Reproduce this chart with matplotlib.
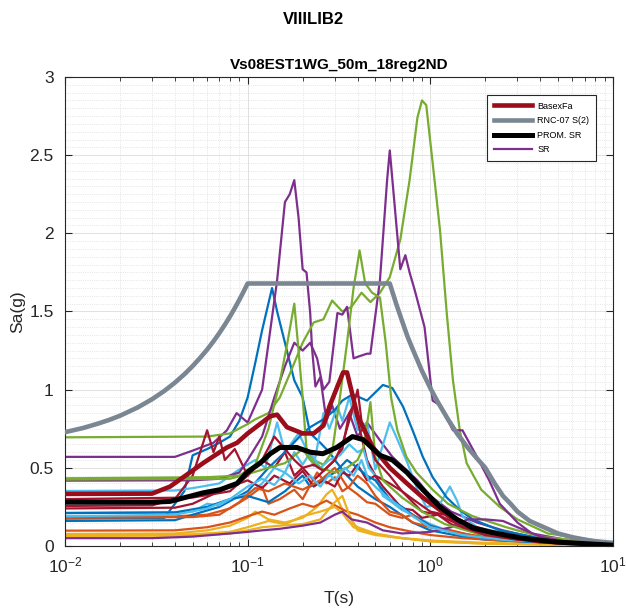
import matplotlib
matplotlib.use('Agg')
import matplotlib.pyplot as plt
from matplotlib.lines import Line2D
from matplotlib.ticker import MultipleLocator, LogLocator, NullFormatter

plt.rcParams['font.family'] = ['Liberation Sans', 'DejaVu Sans']

# colores por defecto de matlab
c_blue = '#0072BD'
c_orange = '#D95319'
c_yellow = '#EDB120'
c_purple = '#7E2F8E'
c_green = '#77AC30'
c_lblue = '#4DBEEE'
c_dred = '#A2142F'

# espectro RNC-07 S(2)
rnc_T = [0.01, 0.0125, 0.015, 0.0175, 0.02, 0.025, 0.03, 0.035, 0.04, 0.045, 0.05, 0.055, 0.06, 0.065,
         0.07, 0.075, 0.08, 0.085, 0.09, 0.095, 0.1, 0.6, 0.65, 0.7, 0.75, 0.8, 0.9, 1.0, 1.1, 1.25,
         1.4, 1.6, 1.8, 2.0, 2.25, 2.5, 2.75, 3.0, 3.5, 4.0, 5.0, 6.0, 7.0, 8.0, 10.0]
rnc_sa = [0.728, 0.754, 0.781, 0.807, 0.833, 0.886, 0.939, 0.992, 1.045, 1.098, 1.151, 1.204, 1.256, 1.309,
          1.362, 1.415, 1.468, 1.521, 1.574, 1.627, 1.679, 1.679, 1.55, 1.44, 1.34, 1.26, 1.12, 1.01, 0.92, 0.81,
          0.72, 0.63, 0.56, 0.50, 0.40, 0.32, 0.27, 0.22, 0.16, 0.13, 0.08, 0.056, 0.041, 0.03, 0.02]

# BasexFa
base_T = [0.01, 0.03, 0.0376, 0.057, 0.077, 0.0875, 0.1, 0.133, 0.145, 0.164, 0.2, 0.23, 0.26, 0.28, 0.31, 0.333, 0.35, 0.40, 0.485, 0.6, 0.745, 0.91, 1.13, 1.4, 1.71, 2.63, 4.0, 10.0]
base_sa = [0.333, 0.335, 0.38, 0.53, 0.63, 0.66, 0.72, 0.83, 0.84, 0.76, 0.72, 0.72, 0.77, 0.89, 1.02, 1.11, 1.11, 0.83, 0.63, 0.50, 0.40, 0.31, 0.23, 0.17, 0.12, 0.06, 0.03, 0.005]

# PROM. SR
prom_T = [0.01, 0.03, 0.0376, 0.057, 0.0705, 0.0875, 0.099, 0.117, 0.133, 0.15, 0.186, 0.22, 0.258, 0.307, 0.375, 0.43, 0.53, 0.62, 0.745, 0.91, 1.13, 1.4, 1.71, 2.1, 3.2, 4.9, 10.0]
prom_sa = [0.28, 0.28, 0.285, 0.34, 0.36, 0.40, 0.47, 0.53, 0.59, 0.63, 0.63, 0.60, 0.59, 0.63, 0.70, 0.68, 0.58, 0.55, 0.47, 0.36, 0.25, 0.17, 0.115, 0.09, 0.05, 0.025, 0.005]

# registros SR
sr01_T = [0.01, 0.035, 0.045, 0.05, 0.06, 0.07, 0.08, 0.09, 0.1, 0.11, 0.12, 0.136, 0.145, 0.16, 0.18, 0.2, 0.22, 0.25, 0.28, 0.3, 0.35, 0.4, 0.5, 0.6, 0.8, 1.0, 1.5, 2.0, 4.0, 10.0]
sr01_sa = [0.175, 0.18, 0.35, 0.58, 0.62, 0.66, 0.70, 0.80, 0.95, 1.17, 1.38, 1.65, 1.50, 1.30, 1.06, 0.95, 0.72, 0.66, 0.60, 0.55, 0.45, 0.38, 0.30, 0.25, 0.15, 0.10, 0.06, 0.04, 0.02, 0.005]
sr02_T = [0.01, 0.04, 0.06, 0.08, 0.1, 0.12, 0.13, 0.15, 0.18, 0.2, 0.24, 0.27, 0.3, 0.33, 0.36, 0.4, 0.45, 0.5, 0.6, 0.7, 0.8, 1.0, 1.3, 1.8, 3.0, 10.0]
sr02_sa = [0.188, 0.19, 0.20, 0.24, 0.31, 0.38, 0.27, 0.30, 0.36, 0.30, 0.47, 0.40, 0.44, 0.35, 0.38, 0.45, 0.40, 0.32, 0.22, 0.20, 0.15, 0.12, 0.10, 0.06, 0.03, 0.005]
sr03_T = [0.01, 0.04, 0.06, 0.08, 0.1, 0.11, 0.13, 0.16, 0.2, 0.24, 0.27, 0.29, 0.31, 0.35, 0.4, 0.5, 0.7, 1.0, 2.0, 10.0]
sr03_sa = [0.077, 0.08, 0.10, 0.13, 0.18, 0.22, 0.17, 0.15, 0.18, 0.25, 0.33, 0.36, 0.30, 0.17, 0.12, 0.08, 0.05, 0.035, 0.02, 0.003]
sr04_T = [0.01, 0.04, 0.05, 0.065, 0.077, 0.087, 0.1, 0.12, 0.133, 0.145, 0.16, 0.17, 0.18, 0.19, 0.2, 0.21, 0.22, 0.225, 0.235, 0.25, 0.27, 0.29, 0.32, 0.36, 0.4, 0.45, 0.55, 0.62, 0.85, 1.0, 1.3, 1.8, 2.5, 3.5, 5.0, 10.0]
sr04_sa = [0.57, 0.57, 0.61, 0.66, 0.74, 0.85, 0.79, 1.00, 1.38, 1.70, 2.20, 2.25, 2.34, 2.10, 1.77, 1.75, 1.49, 1.27, 1.02, 1.08, 0.80, 0.90, 0.75, 0.85, 0.70, 0.79, 0.65, 0.57, 0.42, 0.32, 0.22, 0.15, 0.10, 0.06, 0.03, 0.01]
sr05_T = [0.01, 0.06, 0.08, 0.1, 0.11, 0.13, 0.15, 0.17, 0.2, 0.23, 0.26, 0.29, 0.33, 0.37, 0.42, 0.47, 0.53, 0.6, 0.685, 0.77, 0.85, 0.9, 0.95, 1.03, 1.13, 1.23, 1.33, 1.45, 1.58, 1.9, 2.4, 3.0, 4.4, 10.0]
sr05_sa = [0.695, 0.70, 0.72, 0.78, 0.81, 0.85, 0.95, 1.10, 1.30, 1.43, 1.45, 1.57, 1.50, 1.53, 1.62, 1.56, 1.62, 1.72, 1.96, 2.34, 2.74, 2.85, 2.82, 2.45, 2.02, 1.49, 1.06, 0.74, 0.53, 0.36, 0.25, 0.17, 0.08, 0.02]
sr06_T = [0.01, 0.04, 0.05, 0.07, 0.09, 0.11, 0.125, 0.145, 0.16, 0.19, 0.21, 0.23, 0.26, 0.28, 0.31, 0.33, 0.36, 0.4, 0.45, 0.5, 0.6, 0.65, 0.75, 0.85, 0.95, 1.13, 1.28, 1.4, 1.5, 1.8, 2.6, 4.0, 10.0]
sr06_sa = [0.352, 0.355, 0.37, 0.40, 0.49, 0.55, 0.50, 0.79, 0.60, 0.72, 0.62, 0.51, 0.85, 0.75, 0.89, 0.80, 0.95, 0.74, 0.79, 0.49, 0.79, 0.70, 0.53, 0.36, 0.25, 0.27, 0.38, 0.29, 0.19, 0.12, 0.08, 0.04, 0.005]
sr07_T = [0.01, 0.03, 0.04, 0.05, 0.06, 0.065, 0.07, 0.075, 0.085, 0.1, 0.12, 0.14, 0.16, 0.18, 0.2, 0.23, 0.26, 0.3, 0.33, 0.36, 0.38, 0.42, 0.45, 0.5, 0.6, 0.7, 0.9, 1.1, 1.3, 1.6, 2.5, 4.0, 10.0]
sr07_sa = [0.256, 0.26, 0.30, 0.45, 0.74, 0.60, 0.70, 0.55, 0.62, 0.45, 0.55, 0.50, 0.60, 0.45, 0.50, 0.42, 0.48, 0.55, 0.62, 0.85, 0.90, 0.70, 0.55, 0.45, 0.40, 0.35, 0.22, 0.20, 0.14, 0.10, 0.05, 0.02, 0.005]
sr08_T = [0.01, 0.04, 0.05, 0.07, 0.1, 0.13, 0.16, 0.2, 0.22, 0.26, 0.3, 0.33, 0.375, 0.45, 0.55, 0.62, 0.71, 0.8, 0.91, 1.03, 1.23, 1.45, 1.71, 2.4, 4.0, 10.0]
sr08_sa = [0.16, 0.165, 0.20, 0.25, 0.35, 0.50, 0.60, 0.72, 0.76, 0.81, 0.87, 0.93, 0.97, 0.93, 1.03, 1.01, 0.89, 0.74, 0.57, 0.44, 0.31, 0.23, 0.17, 0.10, 0.05, 0.005]
sr09_T = [0.01, 0.04, 0.06, 0.08, 0.1, 0.12, 0.14, 0.17, 0.2, 0.23, 0.27, 0.3, 0.35, 0.4, 0.5, 0.6, 0.8, 1.0, 1.5, 3.0, 10.0]
sr09_sa = [0.098, 0.10, 0.12, 0.15, 0.19, 0.22, 0.20, 0.24, 0.27, 0.25, 0.29, 0.26, 0.22, 0.20, 0.15, 0.12, 0.09, 0.07, 0.05, 0.03, 0.005]
sr10_T = [0.01, 0.05, 0.08, 0.1, 0.12, 0.15, 0.2, 0.25, 0.3, 0.33, 0.36, 0.4, 0.5, 0.7, 1.0, 2.0, 10.0]
sr10_sa = [0.064, 0.066, 0.08, 0.10, 0.12, 0.13, 0.14, 0.17, 0.28, 0.32, 0.20, 0.10, 0.07, 0.05, 0.03, 0.015, 0.003]
sr11_T = [0.01, 0.05, 0.07, 0.09, 0.1, 0.12, 0.14, 0.16, 0.18, 0.2, 0.22, 0.24, 0.26, 0.28, 0.31, 0.33, 0.35, 0.38, 0.4, 0.45, 0.47, 0.53, 0.58, 0.6, 0.685, 0.73, 0.77, 0.82, 0.93, 1.03, 1.13, 1.33, 1.5, 1.8, 2.1, 2.4, 3.0, 3.6, 5.5, 10.0]
sr11_sa = [0.418, 0.42, 0.43, 0.47, 0.55, 0.70, 0.95, 1.15, 1.30, 1.25, 1.30, 1.20, 1.00, 1.05, 1.49, 1.48, 1.53, 1.20, 1.21, 1.23, 1.23, 1.70, 2.34, 2.53, 1.77, 1.86, 1.75, 1.64, 1.40, 0.93, 0.90, 0.74, 0.74, 0.57, 0.42, 0.27, 0.15, 0.08, 0.04, 0.01]
sr12_T = [0.01, 0.06, 0.09, 0.11, 0.13, 0.15, 0.165, 0.18, 0.19, 0.2, 0.21, 0.23, 0.26, 0.29, 0.32, 0.35, 0.38, 0.41, 0.44, 0.48, 0.53, 0.57, 0.61, 0.66, 0.74, 0.84, 1.03, 1.25, 1.71, 2.6, 4.0, 10.0]
sr12_sa = [0.433, 0.44, 0.45, 0.52, 0.75, 1.05, 1.30, 1.55, 1.25, 0.95, 0.62, 0.55, 0.52, 0.60, 0.95, 1.30, 1.65, 1.89, 1.68, 1.62, 1.59, 1.30, 0.95, 0.74, 0.57, 0.47, 0.36, 0.27, 0.19, 0.12, 0.06, 0.01]
sr13_T = [0.01, 0.04, 0.05, 0.06, 0.07, 0.08, 0.1, 0.12, 0.14, 0.16, 0.18, 0.2, 0.22, 0.25, 0.28, 0.32, 0.36, 0.4, 0.43, 0.46, 0.5, 0.55, 0.6, 0.7, 0.8, 1.0, 1.3, 2.0, 4.0, 10.0]
sr13_sa = [0.213, 0.215, 0.22, 0.27, 0.26, 0.30, 0.33, 0.40, 0.50, 0.47, 0.60, 0.52, 0.60, 0.50, 0.55, 0.58, 0.65, 0.60, 0.62, 0.50, 0.45, 0.32, 0.29, 0.23, 0.20, 0.14, 0.09, 0.05, 0.02, 0.005]
sr14_T = [0.01, 0.04, 0.05, 0.07, 0.09, 0.1, 0.12, 0.14, 0.17, 0.2, 0.23, 0.26, 0.3, 0.33, 0.36, 0.4, 0.45, 0.5, 0.55, 0.6, 0.7, 0.8, 0.9, 1.1, 1.3, 1.8, 3.0, 10.0]
sr14_sa = [0.24, 0.245, 0.27, 0.35, 0.40, 0.42, 0.37, 0.45, 0.40, 0.48, 0.38, 0.42, 0.38, 0.47, 0.45, 0.52, 0.42, 0.45, 0.38, 0.33, 0.24, 0.23, 0.18, 0.20, 0.16, 0.08, 0.04, 0.005]
sr15_T = [0.01, 0.04, 0.06, 0.08, 0.1, 0.13, 0.16, 0.2, 0.22, 0.25, 0.3, 0.35, 0.4, 0.45, 0.5, 0.6, 0.7, 0.8, 1.0, 1.3, 2.0, 4.0, 10.0]
sr15_sa = [0.21, 0.215, 0.25, 0.30, 0.32, 0.28, 0.35, 0.45, 0.38, 0.42, 0.47, 0.55, 0.50, 0.45, 0.42, 0.30, 0.25, 0.20, 0.13, 0.09, 0.05, 0.02, 0.005]
sr16_T = [0.01, 0.05, 0.07, 0.09, 0.1, 0.11, 0.13, 0.16, 0.2, 0.25, 0.3, 0.35, 0.4, 0.45, 0.5, 0.6, 0.7, 0.8, 0.9, 1.0, 1.5, 2.5, 10.0]
sr16_sa = [0.18, 0.185, 0.20, 0.28, 0.33, 0.37, 0.35, 0.40, 0.36, 0.42, 0.50, 0.38, 0.33, 0.28, 0.27, 0.20, 0.18, 0.20, 0.15, 0.12, 0.08, 0.04, 0.005]
sr17_T = [0.01, 0.05, 0.08, 0.1, 0.13, 0.16, 0.2, 0.25, 0.3, 0.33, 0.38, 0.45, 0.6, 1.0, 2.0, 10.0]
sr17_sa = [0.07, 0.075, 0.09, 0.12, 0.16, 0.14, 0.19, 0.22, 0.25, 0.21, 0.12, 0.09, 0.06, 0.03, 0.015, 0.003]
sr18_T = [0.01, 0.03, 0.05, 0.08, 0.1, 0.12, 0.15, 0.2, 0.25, 0.3, 0.33, 0.37, 0.45, 0.55, 0.7, 1.0, 1.3, 1.6, 2.0, 2.5, 3.0, 4.0, 6.0, 10.0]
sr18_sa = [0.05, 0.05, 0.06, 0.08, 0.09, 0.10, 0.11, 0.13, 0.15, 0.20, 0.22, 0.17, 0.15, 0.10, 0.08, 0.09, 0.12, 0.17, 0.17, 0.16, 0.12, 0.06, 0.02, 0.005]
sr19_T = [0.01, 0.08, 0.1, 0.13, 0.16, 0.2, 0.22, 0.25, 0.3, 0.35, 0.4, 0.43, 0.47, 0.5, 0.55, 0.7, 0.9, 1.2, 1.8, 3.0, 10.0]
sr19_sa = [0.425, 0.43, 0.46, 0.50, 0.53, 0.62, 0.55, 0.50, 0.47, 0.50, 0.55, 0.63, 0.92, 0.57, 0.42, 0.31, 0.22, 0.14, 0.08, 0.04, 0.005]
sr20_T = [0.01, 0.04, 0.06, 0.08, 0.1, 0.12, 0.14, 0.16, 0.19, 0.22, 0.25, 0.28, 0.3, 0.34, 0.38, 0.42, 0.46, 0.52, 0.6, 0.8, 1.0, 1.5, 2.5, 10.0]
sr20_sa = [0.19, 0.20, 0.24, 0.30, 0.38, 0.43, 0.39, 0.47, 0.40, 0.45, 0.38, 0.46, 0.42, 0.50, 0.45, 0.55, 0.42, 0.36, 0.30, 0.19, 0.12, 0.07, 0.04, 0.005]
sr21_T = [0.01, 0.05, 0.08, 0.1, 0.12, 0.14, 0.16, 0.18, 0.2, 0.23, 0.26, 0.3, 0.33, 0.37, 0.4, 0.42, 0.45, 0.5, 0.6, 0.7, 0.8, 1.0, 1.2, 1.5, 2.0, 3.0, 10.0]
sr21_sa = [0.30, 0.31, 0.35, 0.45, 0.55, 0.70, 0.62, 0.55, 0.50, 0.52, 0.48, 0.55, 0.65, 0.85, 1.00, 0.80, 0.72, 0.55, 0.45, 0.35, 0.30, 0.22, 0.20, 0.12, 0.07, 0.04, 0.005]

sr_T = [sr01_T, sr02_T, sr03_T, sr04_T, sr05_T, sr06_T, sr07_T,
        sr08_T, sr09_T, sr10_T, sr11_T, sr12_T, sr13_T, sr14_T,
        sr15_T, sr16_T, sr17_T, sr18_T, sr19_T, sr20_T, sr21_T]
sr_sa = [sr01_sa, sr02_sa, sr03_sa, sr04_sa, sr05_sa, sr06_sa, sr07_sa,
         sr08_sa, sr09_sa, sr10_sa, sr11_sa, sr12_sa, sr13_sa, sr14_sa,
         sr15_sa, sr16_sa, sr17_sa, sr18_sa, sr19_sa, sr20_sa, sr21_sa]
colores = [c_blue, c_orange, c_yellow, c_purple, c_green, c_lblue, c_dred]

fig = plt.figure(figsize=(6.26, 6.08), dpi=100)
ax = fig.add_axes([0.1038, 0.102, 0.8754, 0.7714])

for i in range(len(sr_T)):
    ax.plot(sr_T[i], sr_sa[i], color=colores[i % 7], lw=1.6, zorder=2)

ax.plot(base_T, base_sa, color='#9B0D1A', lw=3.3, zorder=3)
ax.plot(rnc_T, rnc_sa, color='#7A8793', lw=3.3, zorder=4)
ax.plot(prom_T, prom_sa, color='black', lw=3.6, zorder=5)

ax.set_xscale('log')
ax.set_xlim(0.01, 10)
ax.set_ylim(0, 3)
ax.yaxis.set_major_locator(MultipleLocator(0.5))
ax.yaxis.set_minor_locator(MultipleLocator(0.05))
ax.set_yticks([0, 0.5, 1, 1.5, 2, 2.5, 3])
ax.set_yticklabels(['0', '0.5', '1', '1.5', '2', '2.5', '3'])
ax.xaxis.set_minor_locator(LogLocator(base=10, subs=range(2, 10)))
ax.xaxis.set_minor_formatter(NullFormatter())

ax.grid(True, which='major', color='#dcdcdc', lw=0.6, ls='-')
ax.grid(True, which='minor', color='#dcdcdc', lw=0.6, ls=':')
ax.set_axisbelow(True)

ax.tick_params(which='both', direction='in', top=True, right=True, colors='#262626', labelsize=12.5)
ax.tick_params(which='major', length=5)
ax.tick_params(axis='y', which='major', pad=8)
ax.tick_params(axis='x', which='major', pad=7)
ax.tick_params(axis='x', which='minor', length=3)
ax.tick_params(axis='y', which='minor', length=0)
for s in ax.spines.values():
    s.set_color('#262626')
    s.set_linewidth(0.8)

ax.set_xlabel('T(s)', fontsize=12.5, color='#262626', labelpad=11)
ax.set_ylabel('Sa(g)', fontsize=12.5, color='#262626', labelpad=3)
ax.set_title('Vs08EST1WG_50m_18reg2ND', fontsize=11, fontweight='bold', pad=6)
fig.suptitle('VIIILIB2', fontsize=12, fontweight='bold', y=0.98)

handles = [Line2D([], [], color='#9B0D1A', lw=3.3),
           Line2D([], [], color='#7A8793', lw=3.3),
           Line2D([], [], color='black', lw=3.6),
           Line2D([], [], color=c_purple, lw=1.6)]
labels = ['BasexFa', 'RNC-07 S(2)', 'PROM. SR', 'SR']
leg = ax.legend(handles, labels, loc='upper right', bbox_to_anchor=(0.969, 0.962),
                fontsize=6.5, handlelength=4.2, fancybox=False, framealpha=1,
                edgecolor='#262626', borderpad=0.75, labelspacing=0.62, handletextpad=0.6,
                borderaxespad=0)
leg.get_frame().set_linewidth(0.8)

plt.savefig('out.png', dpi=100)
